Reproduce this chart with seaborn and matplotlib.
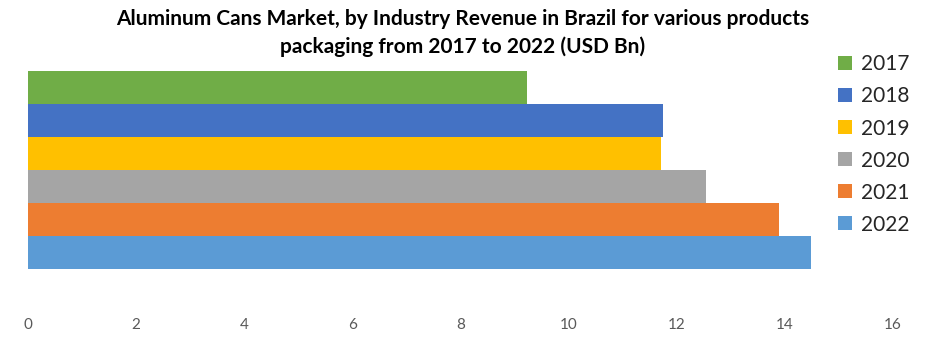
import matplotlib
matplotlib.use("Agg")
import matplotlib.pyplot as plt
import seaborn as sns
import pandas as pd

years = ["2017", "2018", "2019", "2020", "2021", "2022"]
values = [9.23, 11.75, 11.71, 12.54, 13.89, 14.48]
colors = ["#70AD47", "#4472C4", "#FFC000", "#A5A5A5", "#ED7D31", "#5B9BD5"]
xticks = [0, 2, 4, 6, 8, 10, 12, 14, 16]
title = "Aluminum Cans Market, by Industry Revenue in Brazil for various products\npackaging from 2017 to 2022 (USD Bn)"

sns.set_theme(style="white")
plt.rcParams['font.family'] = ['Lato', 'DejaVu Sans']

df = pd.DataFrame({"cat": [""] * len(years), "year": years, "value": values})

fig = plt.figure(figsize=(9.25, 3.38), dpi=100)
ax = fig.add_axes([28/925, 1 - 300/338, (893 - 28)/925, 245/338])

sns.barplot(data=df, x="value", y="cat", hue="year", palette=colors,
            width=0.8, dodge=True, ax=ax, saturation=1, linewidth=0, legend=True)

ax.set_xlim(0, 16)
ax.set_ylim(0.525, -0.4646)
ax.set_xticks(xticks)
ax.set_xticklabels([str(t) for t in xticks], fontsize=11, color="#595959")
ax.tick_params(axis="x", length=0, pad=13)
ax.set_yticks([])
ax.set_xlabel("")
ax.set_ylabel("")
for s in ax.spines.values():
    s.set_visible(False)

leg = ax.legend(loc="upper left", bbox_to_anchor=(830/925, 1 - 46/338),
                bbox_transform=fig.transFigure, frameon=False, fontsize=15,
                handlelength=0.65, handleheight=0.65, handletextpad=0.45,
                labelspacing=0.58, borderaxespad=0)

fig.text(0.5, 1 - 9/338, title, ha="center", va="top", fontsize=15,
         fontweight="bold", color="#000000", linespacing=1.45)

fig.savefig("out.png", dpi=100)
